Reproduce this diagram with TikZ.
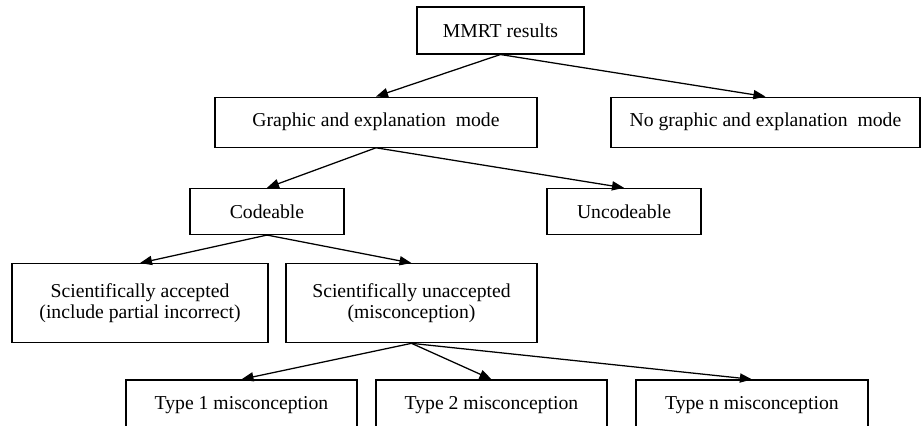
\documentclass[tikz,border=0pt]{standalone}
\usepackage{fontspec}
\setmainfont{Liberation Serif}
\usepackage{tikz}
\usetikzlibrary{arrows.meta, positioning}

\begin{document}
\begin{tikzpicture}[->,>={Triangle[length=3mm,width=2.3mm]},line width=0.9pt,
    font=\fontsize{14}{15.5}\selectfont]
    \tikzset{box/.style={draw, rectangle, align=center, inner sep=2pt, minimum height=1.25cm}}
    \useasboundingbox (0,0) rectangle (23.05,-10.65);

    \node[box, minimum width=4.175cm, minimum height=1.175cm] (mmrt) at (12.51,-0.76) {MMRT results};
    \node[box, minimum width=8.05cm] (graphic) [below=1.05cm of mmrt, xshift=-3.11cm] {Graphic and explanation~ mode};
    \node[box, minimum width=7.725cm] (nographic) [below=1.05cm of mmrt, xshift=6.625cm] {No graphic and explanation~ mode};
    \node[box, minimum width=3.85cm, minimum height=1.15cm] (codeable) [below=1cm of graphic, xshift=-2.725cm] {Codeable};
    \node[box, minimum width=3.85cm, minimum height=1.15cm] (uncodeable) [below=1cm of graphic, xshift=6.2cm] {Uncodeable};
    \node[box, minimum width=6.4cm, minimum height=1.975cm] (accepted) [below=0.7cm of codeable, xshift=-3.175cm] {Scientifically accepted\\(include partial incorrect)};
    \node[box, minimum width=6.275cm, minimum height=1.975cm] (unaccepted) [below=0.7cm of codeable, xshift=3.6125cm] {Scientifically unaccepted\\(misconception)};
    \node[box, minimum width=5.775cm] (type1) [below=0.9cm of unaccepted, xshift=-4.25cm] {Type 1 misconception};
    \node[box, minimum width=5.775cm] (type2) [below=0.9cm of unaccepted, xshift=2cm] {Type 2 misconception};
    \node[box, minimum width=5.8cm] (typen) [below=0.9cm of unaccepted, xshift=8.51cm] {Type n misconception};

    \draw (mmrt.south) -- (graphic.north);
    \draw (mmrt.south) -- (nographic.north);
    \draw (graphic.south) -- (codeable.north);
    \draw (graphic.south) -- (uncodeable.north);
    \draw (codeable.south) -- (accepted.north);
    \draw (codeable.south) -- (unaccepted.north);
    \draw (unaccepted.south) -- (type1.north);
    \draw (unaccepted.south) -- (type2.north);
    \draw (unaccepted.south) -- (typen.north);
\end{tikzpicture}
\end{document}
